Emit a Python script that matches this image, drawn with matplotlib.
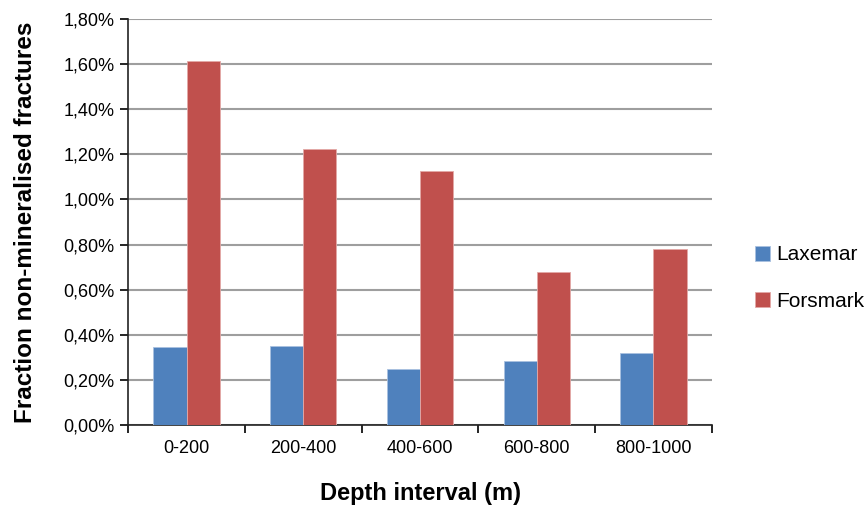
import numpy as np
import matplotlib
matplotlib.use("Agg")
import matplotlib.pyplot as plt
from matplotlib.ticker import FuncFormatter, MultipleLocator

plt.rcParams['font.family'] = ['Liberation Sans', 'DejaVu Sans']

categories = ["0-200", "200-400", "400-600", "600-800", "800-1000"]
laxemar = [0.347, 0.352, 0.250, 0.283, 0.318]     # %
forsmark = [1.615, 1.222, 1.128, 0.678, 0.782]   # %

fig = plt.figure(figsize=(8.66, 5.12), dpi=100)
ax = fig.add_axes([0.148, 0.170, 0.674, 0.793])

x = np.arange(len(categories))
w = 0.283
ax.bar(x - w / 2, laxemar, w, color="#4F81BD", edgecolor="#A9C1E0", linewidth=0.6,
       label="Laxemar", zorder=3)
ax.bar(x + w / 2, forsmark, w, color="#C0504D", edgecolor="#E3A9A7", linewidth=0.6,
       label="Forsmark", zorder=3)

ax.set_xlim(-0.5, len(categories) - 0.5)
ax.set_ylim(0, 1.8)
ax.yaxis.set_major_locator(MultipleLocator(0.2))
ax.yaxis.set_major_formatter(FuncFormatter(lambda v, p: f"{v:.2f}%".replace(".", ",")))
ax.grid(axis="y", color="#9E9E9E", linewidth=1.5, zorder=0)

ax.set_xticks(x)
ax.set_xticklabels(categories)
ax.set_xticks(np.arange(len(categories) + 1) - 0.5, minor=True)
ax.tick_params(axis="x", which="major", length=0, pad=11, labelsize=13)
ax.tick_params(axis="x", which="minor", length=6, width=1.2, direction="out")
ax.tick_params(axis="y", length=6, width=1.2, direction="out", labelsize=13, pad=4)

for s in ["top", "right"]:
    ax.spines[s].set_visible(False)
for s in ["left", "bottom"]:
    ax.spines[s].set_linewidth(1.2)
    ax.spines[s].set_color("#222222")

ax.set_xlabel("Depth interval (m)", fontsize=17, fontweight="bold", labelpad=18)
ax.set_ylabel("Fraction non-mineralised fractures", fontsize=17.5, fontweight="bold",
              labelpad=19)

ax.legend(loc="center left", bbox_to_anchor=(1.074, 0.362), frameon=False,
          borderaxespad=0, borderpad=0,
          fontsize=15, handlelength=0.72, handleheight=0.72, handletextpad=0.3,
          labelspacing=1.3)

fig.savefig("out.png", dpi=100)
